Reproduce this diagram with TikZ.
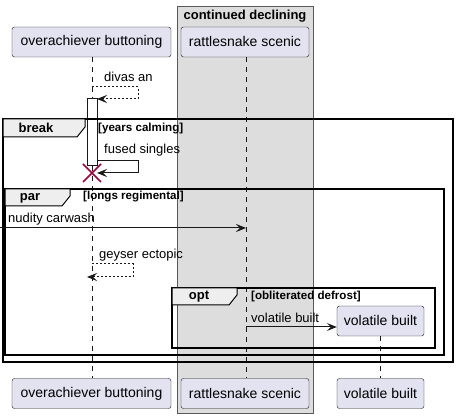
\documentclass[tikz,border=0pt]{standalone}
\usepackage{fontspec}
\setmainfont{Liberation Sans}
\usetikzlibrary{arrows.meta}
\definecolor{umlink}{HTML}{181818}
\definecolor{umlpart}{HTML}{E2E2F0}
\definecolor{umlbox}{HTML}{DDDDDD}
\definecolor{umltab}{HTML}{EEEEEE}
\definecolor{umlkill}{HTML}{A80036}

\begin{document}
\begin{tikzpicture}[x=1pt, y=-1pt,
        part/.style={draw=umlink, fill=umlpart, rounded corners=2.5pt, minimum height=30pt, inner sep=0pt, font=\fontsize{14}{16}\selectfont},
        msg/.style={font=\fontsize{13}{15}\selectfont, anchor=west, inner sep=0pt},
        cond/.style={font=\fontsize{11.6}{13}\selectfont\bfseries, anchor=west, inner sep=0pt},
        kw/.style={font=\fontsize{13}{15}\selectfont\bfseries, inner sep=0pt},
        life/.style={umlink, line width=0.5pt, dash pattern=on 5pt off 5pt},
        frame/.style={draw=black, line width=1.5pt},
        tab/.style={draw=black, fill=umltab, line width=1pt},
        arr/.style={umlink, line width=1pt, -{Stealth[length=10pt, width=8pt, inset=4pt]}},
        darr/.style={arr, dash pattern=on 2pt off 2pt}]
      \useasboundingbox (0,0) rectangle (459,419);
      % box round rattlesnake scenic
      \fill[umlbox] (177,6) rectangle (313,413);
      \draw[gray!70!black, line width=0.7pt] (177,6) rectangle (313,413);
      \node[kw] (boxtitle) at (245,16) {continued declining};
      % participants, head and foot
      \node[part, minimum width=159pt] (ob) at (91.5,42) {overachiever buttoning};
      \node[part, minimum width=128pt] (rs) at (245,42) {rattlesnake scenic};
      \node[part, minimum width=159pt] (obf) at (91.5,393.5) {overachiever buttoning};
      \node[part, minimum width=128pt] (rsf) at (245,393.5) {rattlesnake scenic};
      \node[part, minimum width=87pt] (vbf) at (380.5,393.5) {volatile built};
      \draw[life] (92,57) -- (92,99); \draw[life] (92,166) -- (92,378);
      \draw[life] (246,57) -- (246,378);
      % activation and destroy
      \draw[umlink, fill=white, line width=1pt] (87,99) rectangle (97,166);
      \draw[umlkill, line width=1.5pt] (83,164) -- (101,182) (83,182) -- (101,164);
      % frames
      \draw[frame] (3,119) rectangle (453,362);
      \draw[tab] (3,119) -- (85,119) -- (85,127) -- (77,137) -- (3,137) -- cycle;
      \node[kw] (brk) at (36,128) {break};
      \node[cond] (brkc) at (98,129) {[years calming]};
      \draw[frame] (5,189) rectangle (444,355);
      \draw[tab] (5,189) -- (70,189) -- (70,196) -- (62,206) -- (5,206) -- cycle;
      \node[kw] (par) at (30,198) {par};
      \node[cond] (parc) at (83,197) {[longs regimental]};
      \draw[frame] (172,288) rectangle (435,348);
      \draw[tab] (172,288) -- (237,288) -- (237,295) -- (229,305) -- (172,305) -- cycle;
      \node[kw] (opt) at (199,297) {opt};
      \node[cond] (optc) at (251,297) {[obliterated defrost]};
      % created participant
      \node[part, minimum width=87pt] (vb) at (380.5,321) {volatile built};
      \draw[life] (vb.south) -- (vbf.north);
      % messages
      \node[msg] (m1) at (104,77) {divas an};
      \draw[darr] (92,87) -- (138,87) -- (138,99) -- (97,99);
      \node[msg] (m2) at (104,150) {fused singles};
      \draw[arr] (97,161) -- (138,161) -- (138,173) -- (97,173);
      \node[msg] (m3) at (8,219) {nudity carwash};
      \coordinate (lost) at (0,228);
      \draw[arr] (lost) -- (246,228);
      \node[msg] (m4) at (99,255) {geyser ectopic};
      \draw[darr] (92,264) -- (133,264) -- (133,277) -- (87,277);
      \node[msg] (m5) at (251,318) {volatile built};
      \draw[arr] (246,327) -- (vb.west |- 0,327);
\end{tikzpicture}
\end{document}
